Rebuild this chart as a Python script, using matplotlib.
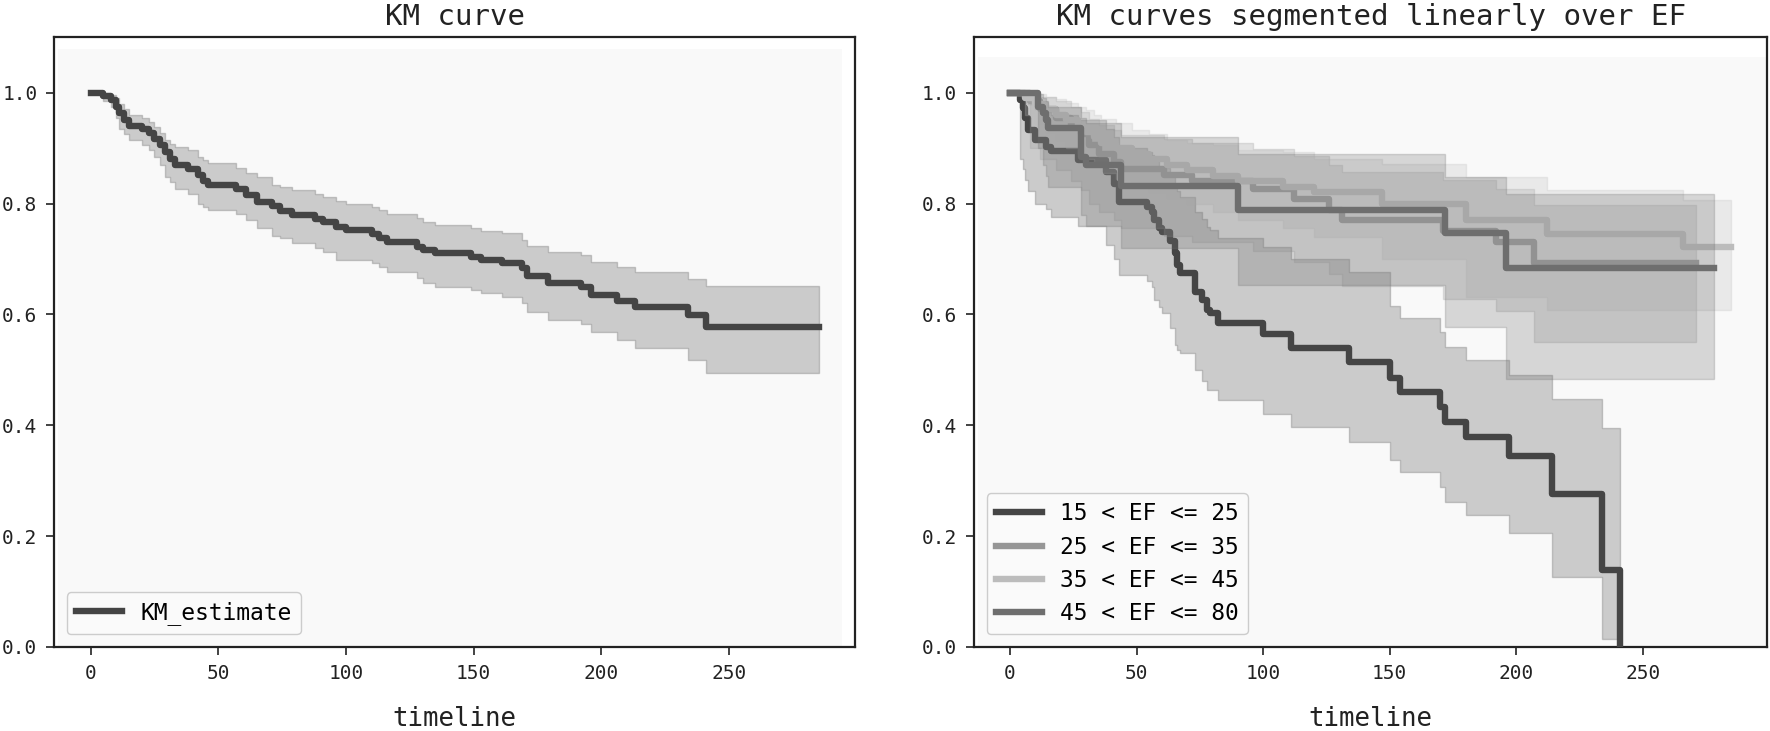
import matplotlib
matplotlib.use("Agg")
import matplotlib.pyplot as plt
from matplotlib.patches import Rectangle

plt.rcParams['font.family'] = ['DejaVu Sans Mono']

# ---------------- data: overall KM ----------------
km_t = [0, 5, 8, 10, 11, 13, 15, 20, 23, 25, 27, 29, 31, 33, 38, 42, 44, 46, 57, 61,
        65, 71, 74, 79, 88, 91, 96, 100, 110, 113, 116, 128, 130, 135, 149, 153, 161, 169, 171, 179,
        192, 196, 206, 213, 234, 241, 285]
km_s = [1.000, 0.994, 0.987, 0.975, 0.963, 0.950, 0.940, 0.934, 0.927, 0.917, 0.905, 0.893, 0.880, 0.869, 0.862, 0.852, 0.840, 0.834, 0.827, 0.815,
        0.803, 0.796, 0.786, 0.779, 0.773, 0.766, 0.758, 0.752, 0.745, 0.738, 0.730, 0.722, 0.716, 0.711, 0.704, 0.698, 0.692, 0.683, 0.669, 0.656,
        0.649, 0.635, 0.624, 0.613, 0.599, 0.578, 0.578]
km_hi = [1.000, 1.000, 0.996, 0.990, 0.980, 0.970, 0.960, 0.954, 0.948, 0.938, 0.928, 0.914, 0.908, 0.902, 0.896, 0.884, 0.878, 0.874, 0.865, 0.856,
         0.848, 0.834, 0.830, 0.824, 0.817, 0.812, 0.805, 0.800, 0.794, 0.788, 0.782, 0.774, 0.767, 0.761, 0.755, 0.751, 0.746, 0.734, 0.723, 0.713,
         0.707, 0.695, 0.686, 0.677, 0.663, 0.651, 0.651]
km_lo = [1.000, 0.985, 0.975, 0.955, 0.935, 0.925, 0.915, 0.905, 0.896, 0.884, 0.870, 0.848, 0.838, 0.826, 0.818, 0.800, 0.793, 0.788, 0.782, 0.770,
         0.755, 0.742, 0.737, 0.728, 0.720, 0.713, 0.698, 0.698, 0.693, 0.685, 0.677, 0.666, 0.656, 0.650, 0.644, 0.638, 0.632, 0.620, 0.605, 0.590,
         0.583, 0.568, 0.554, 0.539, 0.518, 0.495, 0.495]

# ---------------- data: segmented by EF ----------------
ef_labels = ["15 < EF <= 25", "25 < EF <= 35", "35 < EF <= 45", "45 < EF <= 80"]

ef1_t = [0, 4, 5, 6, 7, 10, 14, 16, 27, 38, 41, 43, 54, 56, 57, 59, 60, 63, 65, 66,
         67, 73, 76, 78, 79, 82, 100, 111, 134, 150, 154, 170, 172, 180, 197, 214, 234, 241]
ef1_s = [1.0, 0.986, 0.972, 0.955, 0.933, 0.914, 0.902, 0.895, 0.878, 0.857, 0.836, 0.803, 0.794, 0.785, 0.770, 0.756, 0.749, 0.733, 0.710, 0.690,
         0.675, 0.641, 0.626, 0.608, 0.602, 0.585, 0.564, 0.540, 0.514, 0.486, 0.460, 0.433, 0.406, 0.379, 0.344, 0.276, 0.139, 0.0]
ef1_lo = [1.0, 0.881, 0.862, 0.842, 0.822, 0.800, 0.790, 0.776, 0.760, 0.725, 0.700, 0.671, 0.660, 0.650, 0.626, 0.614, 0.602, 0.575, 0.545, 0.536,
          0.530, 0.499, 0.480, 0.463, 0.463, 0.445, 0.421, 0.397, 0.370, 0.337, 0.316, 0.289, 0.262, 0.238, 0.205, 0.127, 0.015, 0.0]
ef1_hi = [1.0, 1.0, 0.995, 0.990, 0.980, 0.970, 0.965, 0.960, 0.950, 0.935, 0.920, 0.900, 0.893, 0.887, 0.878, 0.868, 0.864, 0.853, 0.836, 0.822,
          0.812, 0.784, 0.772, 0.758, 0.753, 0.738, 0.722, 0.700, 0.676, 0.615, 0.593, 0.569, 0.541, 0.517, 0.490, 0.447, 0.395, 0.395]

ef2_t = [0, 8, 12, 18, 24, 28, 31, 35, 41, 44, 61, 72, 96, 112, 126, 131, 171, 192, 207, 271]
ef2_s = [1.0, 0.985, 0.970, 0.955, 0.940, 0.925, 0.905, 0.890, 0.875, 0.863, 0.851, 0.841, 0.827, 0.809, 0.788, 0.771, 0.750, 0.731, 0.693, 0.693]
ef2_hi = [1.0, 0.998, 0.993, 0.985, 0.975, 0.965, 0.952, 0.942, 0.932, 0.924, 0.916, 0.909, 0.899, 0.886, 0.870, 0.857, 0.842, 0.826, 0.797, 0.797]
ef2_lo = [1.0, 0.900, 0.880, 0.860, 0.840, 0.825, 0.800, 0.785, 0.770, 0.755, 0.742, 0.730, 0.715, 0.695, 0.672, 0.652, 0.628, 0.606, 0.551, 0.551]

ef3_t = [0, 6, 10, 14, 18, 22, 27, 30, 33, 36, 42, 48, 55, 62, 70, 80, 90, 108, 120, 147, 180, 212, 266, 285]
ef3_s = [1.0, 0.99, 0.98, 0.97, 0.96, 0.95, 0.94, 0.93, 0.92, 0.91, 0.90, 0.89, 0.88, 0.87, 0.86, 0.85, 0.84, 0.83, 0.82, 0.80, 0.77, 0.745, 0.721, 0.721]
ef3_hi = [1.0, 1.0, 0.997, 0.993, 0.988, 0.982, 0.975, 0.968, 0.960, 0.952, 0.945, 0.933, 0.925, 0.914, 0.910, 0.905, 0.897, 0.893, 0.881, 0.872, 0.848, 0.825, 0.806, 0.806]
ef3_lo = [1.0, 0.96, 0.945, 0.93, 0.915, 0.90, 0.89, 0.88, 0.87, 0.855, 0.845, 0.835, 0.82, 0.81, 0.80, 0.785, 0.77, 0.755, 0.74, 0.70, 0.632, 0.608, 0.608, 0.608]

ef4_t = [0, 11, 13, 14, 15, 28, 30, 44, 90, 172, 196, 278]
ef4_s = [1.0, 0.975, 0.963, 0.951, 0.936, 0.884, 0.869, 0.831, 0.788, 0.746, 0.683, 0.683]
ef4_hi = [1.0, 0.997, 0.990, 0.985, 0.975, 0.955, 0.945, 0.920, 0.890, 0.848, 0.818, 0.818]
ef4_lo = [1.0, 0.900, 0.870, 0.850, 0.830, 0.780, 0.760, 0.720, 0.653, 0.578, 0.484, 0.484]

xticks = [0, 50, 100, 150, 200, 250]
yticks = [0.0, 0.2, 0.4, 0.6, 0.8, 1.0]

# ---------------- figure ----------------
fig = plt.figure(figsize=(17.7, 7.31), dpi=100)
fig.patch.set_facecolor('white')
ax1 = fig.add_axes([0.0306, 0.115, 0.4524, 0.834])
ax2 = fig.add_axes([0.5503, 0.115, 0.4482, 0.834])

def style(ax, title, inner_right, inner_top):
    ax.set_facecolor('white')
    ax.add_patch(Rectangle((-12.8, 0), inner_right + 12.8, inner_top, facecolor='#f9f9f9',
                           edgecolor='none', zorder=0))
    ax.set_xlim(-14.25, 299.25)
    ax.set_ylim(0, 1.1)
    ax.set_xticks(xticks)
    ax.set_yticks(yticks)
    ax.set_yticklabels([f"{v:.1f}" for v in yticks])
    ax.tick_params(labelsize=14, length=6, width=1.2, color='#222222', labelcolor='#222222', pad=6)
    for s in ax.spines.values():
        s.set_linewidth(1.6)
        s.set_color('#222222')
    ax.set_title(title, fontsize=21, pad=9, color='#222222')
    ax.set_xlabel('timeline', fontsize=18.5, labelpad=17, color='#222222')

style(ax1, 'KM curve', 294, 1.078)
style(ax2, 'KM curves segmented linearly over EF', 299.25, 1.065)

LW = 4.6

# left panel
c0 = '#444444'
ax1.fill_between(km_t, km_lo, km_hi, step='post', color=c0, alpha=0.25, linewidth=1.0, zorder=2)
ax1.step(km_t, km_s, where='post', color=c0, lw=LW, label='KM_estimate', zorder=3)
leg1 = ax1.legend(loc='lower left', fontsize=16.5, frameon=True, fancybox=True,
                  borderaxespad=0.55, handlelength=2.0, labelspacing=0.45)
leg1.get_frame().set_edgecolor('#cccccc')
leg1.get_frame().set_facecolor('#fafafa')
leg1.get_frame().set_alpha(1.0)

# right panel
groups = [
    (ef1_t, ef1_s, ef1_lo, ef1_hi, '#454545'),
    (ef2_t, ef2_s, ef2_lo, ef2_hi, '#969696'),
    (ef3_t, ef3_s, ef3_lo, ef3_hi, '#bcbcbc'),
    (ef4_t, ef4_s, ef4_lo, ef4_hi, '#6e6e6e'),
]
z = 2
for (t, s, lo, hi, c), lab in zip(groups, ef_labels):
    ax2.fill_between(t, lo, hi, step='post', color=c, alpha=0.25, linewidth=1.0, zorder=z)
    ax2.step(t, s, where='post', color=c, lw=LW, label=lab, zorder=z + 1)
    z += 2
leg2 = ax2.legend(loc='lower left', fontsize=16.5, frameon=True, fancybox=True,
                  borderaxespad=0.55, handlelength=2.0, labelspacing=0.45)
leg2.get_frame().set_edgecolor('#cccccc')
leg2.get_frame().set_facecolor('#fafafa')
leg2.get_frame().set_alpha(1.0)
leg2.set_zorder(20)
leg1.set_zorder(20)

fig.savefig('out.png', dpi=100, facecolor='white')
